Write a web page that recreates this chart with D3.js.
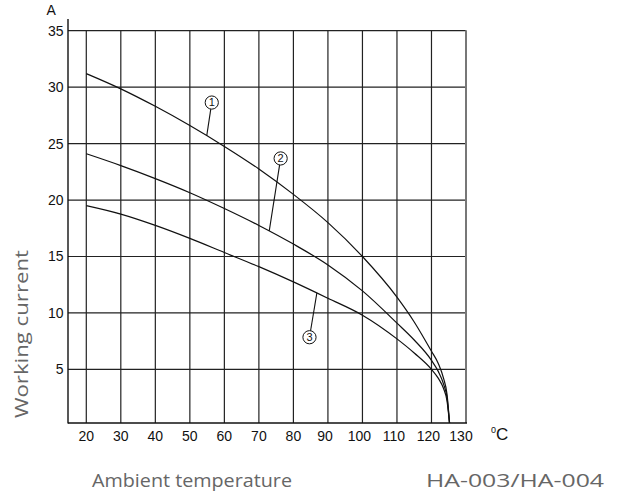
<!DOCTYPE html>
<html>
<head>
<meta charset="utf-8">
<script src="https://cdn.jsdelivr.net/npm/d3@7/dist/d3.min.js"></script>
<style>
  html, body { margin: 0; padding: 0; background: #fff; }
  svg { display: block; }
  .tick-label { font-family: "Liberation Sans", Arial, sans-serif; font-size: 14px; fill: #111; }
  .caption { font-family: "Open Sans", "Lato", sans-serif; font-size: 19px; fill: #666; }
</style>
</head>
<body>
<svg id="chart" width="627" height="494"></svg>
<script>
// Ambient temperature (°C) at which each working current was read
const temps = [20, 30, 40, 50, 60, 70, 80, 90, 100, 110, 115, 120, 122, 123.5, 124.5, 125.3];
// Working current (A) for the three curves
const curve1 = [31.2, 29.85, 28.3, 26.6, 24.75, 22.75, 20.5, 18.0, 15.0, 11.4, 9.2, 6.6, 5.5, 4.2, 2.8, 0];
const curve2 = [24.1, 23.05, 21.9, 20.65, 19.25, 17.75, 16.1, 14.25, 11.95, 9.1, 7.6, 5.8, 4.8, 3.7, 2.5, 0];
const curve3 = [19.5, 18.75, 17.75, 16.6, 15.35, 14.1, 12.75, 11.3, 9.8, 7.7, 6.45, 5.0, 4.2, 3.3, 2.2, 0];
const seriesNames = ["1", "2", "3"];
// Temperature on each curve where its number tag points
const tagTemps = [54.9, 73, 86.8];

const xTicks = [20, 30, 40, 50, 60, 70, 80, 90, 100, 110, 120, 130];
const yTicks = [5, 10, 15, 20, 25, 30, 35];

const svg = d3.select("#chart");

const x = d3.scaleLinear().domain([14.7, 130]).range([68, 466]);
const y = d3.scaleLinear().domain([0.25, 35]).range([423, 30.7]);

const plotLeft = x.range()[0], plotRight = x.range()[1];
const plotBottom = y.range()[0], plotTop = y(35);

// clip so the curves stop at the temperature axis
svg.append("defs").append("clipPath").attr("id", "plot-clip")
  .append("rect").attr("x", plotLeft).attr("y", 0)
  .attr("width", plotRight - plotLeft).attr("height", plotBottom);

// grid
const grid = svg.append("g").attr("stroke", "#222").attr("stroke-width", 1.2);
grid.selectAll("line.v").data(xTicks.filter(d => d < 130)).join("line")
  .attr("class", "v")
  .attr("x1", d => x(d)).attr("x2", d => x(d))
  .attr("y1", plotTop).attr("y2", plotBottom);
grid.selectAll("line.h").data(yTicks).join("line")
  .attr("class", "h")
  .attr("x1", plotLeft).attr("x2", plotRight)
  .attr("y1", d => y(d)).attr("y2", d => y(d));

// right frame edge (lighter, heavier stroke)
svg.append("line")
  .attr("x1", x(130)).attr("x2", x(130))
  .attr("y1", plotTop - 0.5).attr("y2", plotBottom)
  .attr("stroke", "#777").attr("stroke-width", 2);

// axis lines
svg.append("line").attr("x1", plotLeft).attr("x2", plotLeft).attr("y1", 19).attr("y2", plotBottom + 0.6)
  .attr("stroke", "#111").attr("stroke-width", 1.4);
svg.append("line").attr("x1", plotLeft).attr("x2", plotRight + 1).attr("y1", plotBottom).attr("y2", plotBottom)
  .attr("stroke", "#111").attr("stroke-width", 1.4);

// tick labels
svg.append("g").selectAll("text").data(yTicks).join("text")
  .attr("class", "tick-label")
  .attr("x", plotLeft - 4.5)
  .attr("y", d => y(d) + 5)
  .attr("text-anchor", "end")
  .text(d => d);

svg.append("g").selectAll("text").data(xTicks).join("text")
  .attr("class", "tick-label")
  .attr("x", d => x(d) + (d >= 90 ? (d === 130 ? -5 : -3) : 0))
  .attr("y", 441)
  .attr("text-anchor", "middle")
  .text(d => d);

// unit labels
svg.append("text").attr("class", "tick-label").attr("x", 46.5).attr("y", 14.5)
  .style("font-size", "14px").text("A");

const degC = svg.append("text").attr("class", "tick-label").attr("x", 491).attr("y", 440)
  .style("font-size", "17px");
degC.append("tspan").attr("dy", -7).style("font-size", "9px").text("0");
degC.append("tspan").attr("dy", 7).text("C");

// curves
const line = d3.line()
  .x((d, i) => x(temps[i]))
  .y(d => y(d))
  .curve(d3.curveMonotoneX);

const allSeries = [curve1, curve2, curve3];
const paths = svg.append("g").attr("clip-path", "url(#plot-clip)")
  .selectAll("path").data(allSeries).join("path")
  .attr("d", line)
  .attr("fill", "none")
  .attr("stroke", "#111")
  .attr("stroke-width", 1.2);

// find the point on a path at a given screen x
function pointAtX(node, px) {
  const len = node.getTotalLength();
  let lo = 0, hi = len;
  for (let k = 0; k < 40; k++) {
    const mid = (lo + hi) / 2;
    if (node.getPointAtLength(mid).x < px) lo = mid; else hi = mid;
  }
  return node.getPointAtLength((lo + hi) / 2);
}

// numbered tags with leader lines
const tagOffsets = [[5, -33], [11.4, -72.4], [-7.4, 44.3]];
const r = 6.6;
const tags = svg.append("g");
paths.each(function (d, i) {
  const p = pointAtX(this, x(tagTemps[i]));
  const cx = p.x + tagOffsets[i][0], cy = p.y + tagOffsets[i][1];
  const dist = Math.hypot(cx - p.x, cy - p.y);
  const ex = cx - (cx - p.x) * r / dist, ey = cy - (cy - p.y) * r / dist;
  tags.append("line")
    .attr("x1", p.x).attr("y1", p.y).attr("x2", ex).attr("y2", ey)
    .attr("stroke", "#111").attr("stroke-width", 1.1);
  tags.append("circle")
    .attr("cx", cx).attr("cy", cy).attr("r", r)
    .attr("fill", "#fff").attr("stroke", "#111").attr("stroke-width", 1);
  tags.append("text")
    .attr("x", cx).attr("y", cy + 3.8)
    .attr("text-anchor", "middle")
    .attr("class", "tick-label")
    .style("font-size", "11px")
    .text(seriesNames[i]);
});

// captions, stretched to the wide face of the printed labels
svg.append("text").attr("class", "caption")
  .attr("transform", "translate(28,334) rotate(-90)")
  .attr("text-anchor", "middle")
  .attr("textLength", 168).attr("lengthAdjust", "spacingAndGlyphs")
  .text("Working current");
svg.append("text").attr("class", "caption")
  .attr("x", 92).attr("y", 487)
  .attr("textLength", 200).attr("lengthAdjust", "spacingAndGlyphs")
  .text("Ambient temperature");
svg.append("text").attr("class", "caption")
  .attr("x", 426).attr("y", 487)
  .attr("textLength", 178).attr("lengthAdjust", "spacingAndGlyphs")
  .text("HA-003/HA-004");
</script>
</body>
</html>
